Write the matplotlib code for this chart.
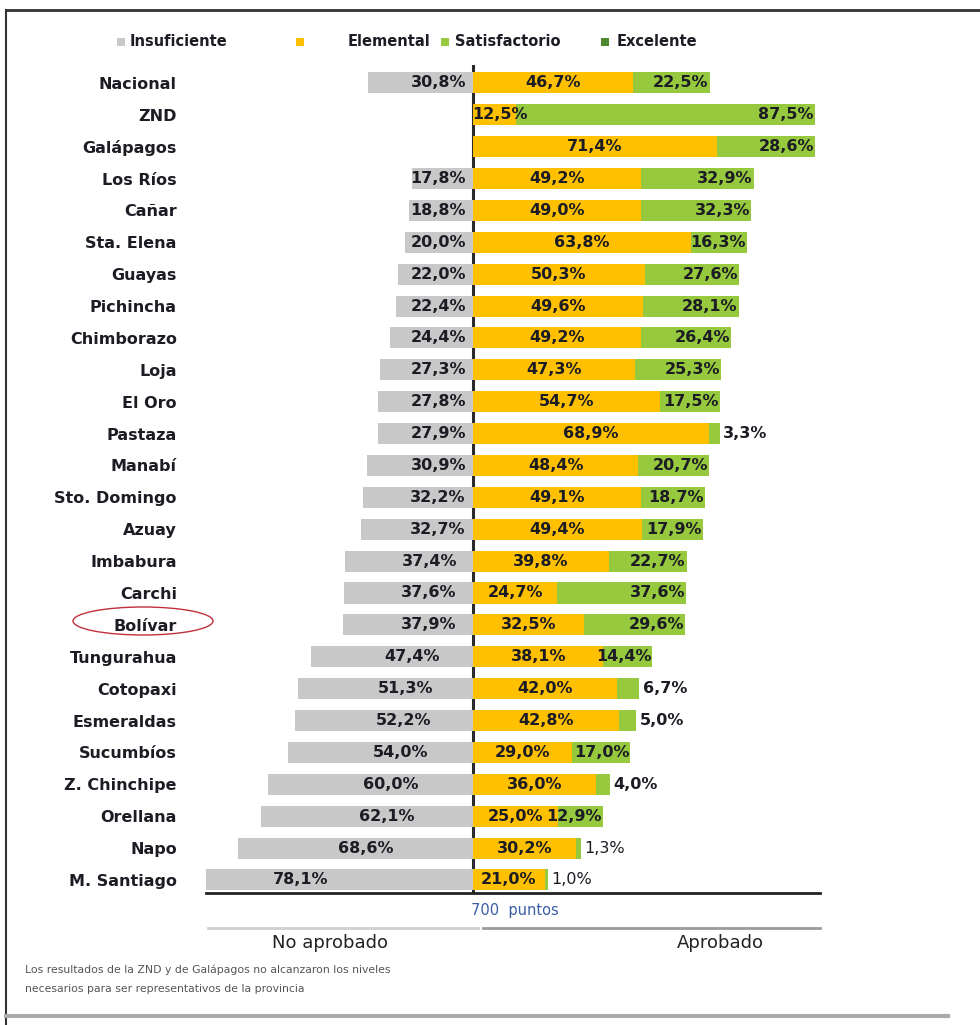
import matplotlib
matplotlib.use("Agg")
import matplotlib.pyplot as plt
from matplotlib.patches import Ellipse, Rectangle
from matplotlib.lines import Line2D
import numpy as np

categories = ["Nacional", "ZND", "Galápagos", "Los Ríos", "Cañar", "Sta. Elena", "Guayas",
              "Pichincha", "Chimborazo", "Loja", "El Oro", "Pastaza", "Manabí", "Sto. Domingo",
              "Azuay", "Imbabura", "Carchi", "Bolívar", "Tungurahua", "Cotopaxi", "Esmeraldas",
              "Sucumbíos", "Z. Chinchipe", "Orellana", "Napo", "M. Santiago"]
insuficiente = [30.8, 0, 0, 17.8, 18.8, 20.0, 22.0, 22.4, 24.4, 27.3, 27.8, 27.9, 30.9, 32.2,
                32.7, 37.4, 37.6, 37.9, 47.4, 51.3, 52.2, 54.0, 60.0, 62.1, 68.6, 78.1]
elemental = [46.7, 12.5, 71.4, 49.2, 49.0, 63.8, 50.3, 49.6, 49.2, 47.3, 54.7, 68.9, 48.4, 49.1,
             49.4, 39.8, 24.7, 32.5, 38.1, 42.0, 42.8, 29.0, 36.0, 25.0, 30.2, 21.0]
satisfactorio = [22.5, 87.5, 28.6, 32.9, 32.3, 16.3, 27.6, 28.1, 26.4, 25.3, 17.5, 3.3, 20.7, 18.7,
                 17.9, 22.7, 37.6, 29.6, 14.4, 6.7, 5.0, 17.0, 4.0, 12.9, 1.3, 1.0]
legend_labels = ["Insuficiente", "Elemental", "Satisfactorio", "Excelente"]

C_GRAY = "#C8C8C8"
C_YEL = "#FFC000"
C_GRN = "#96C93D"
C_DGRN = "#4F8A30"
TXT = "#1c1c24"

W, H = 980, 1025
fig = plt.figure(figsize=(W / 100, H / 100), dpi=100)

def fx(px):
    return px / W

def fy(py):
    return 1 - py / H

ax_left, ax_right = 206, 820
ax_top, ax_bot = 65, 893
ax = fig.add_axes([fx(ax_left), fy(ax_bot), (ax_right - ax_left) / W, (ax_bot - ax_top) / H])

n = len(categories)
y = np.arange(n)
ins = np.array(insuficiente)
ele = np.array(elemental)
sat = np.array(satisfactorio)

ax.axvline(0, color="#2a2a2a", lw=2.2, zorder=1)
bh = 0.66
ax.barh(y, -ins, height=bh, color=C_GRAY, zorder=2)
ax.barh(y, ele, height=bh, color=C_YEL, zorder=2)
ax.barh(y, sat, left=ele, height=bh, color=C_GRN, zorder=2)

ax.set_xlim(-78.1, 101.5)
ax.set_ylim(25.41, -0.56)

def fmt(v):
    return f"{v:.1f}%".replace(".", ",")

fs = 11.5
for i in range(n):
    if ins[i] > 0:
        xr = -max(2.0, ins[i] * 0.5 - 14, 2.0 * ins[i] - 114)
        ax.text(xr, y[i], fmt(ins[i]), ha="right", va="center", fontsize=fs,
                fontweight="bold", color=TXT, zorder=3)
    ax.text(max(ele[i] / 2, 8.0), y[i], fmt(ele[i]), ha="center", va="center", fontsize=fs,
            fontweight="bold", color=TXT, zorder=3)
    end = ele[i] + sat[i]
    if sat[i] < 8:
        ax.text(end + 1.0, y[i], fmt(sat[i]), ha="left", va="center", fontsize=fs,
                fontweight="bold" if sat[i] > 2 else "normal", color=TXT, zorder=3)
    else:
        ax.text(end - 0.3, y[i], fmt(sat[i]), ha="right", va="center", fontsize=fs,
                fontweight="bold", color=TXT, zorder=3)

ax.set_yticks(y)
ax.set_yticklabels(categories, fontsize=11.5, fontweight="bold", color=TXT)
ax.tick_params(axis="y", length=0, pad=21)
ax.set_xticks([])
for s in ["top", "left", "right"]:
    ax.spines[s].set_visible(False)
ax.spines["bottom"].set_linewidth(2)
ax.spines["bottom"].set_color("#222222")

# Legend
leg_items = [(121, C_GRAY, 130), (300, C_YEL, 348), (445, C_GRN, 455), (605, C_DGRN, 617)]
for (sx, col, tx), lab in zip(leg_items, legend_labels):
    fig.patches.append(Rectangle((fx(sx - 4), fy(46)), 8 / W, 8 / H, transform=fig.transFigure,
                                 facecolor=col, edgecolor="none"))
    fig.text(fx(tx), fy(42), lab, ha="left", va="center", fontsize=10.5, fontweight="bold",
             color=TXT)

# Bottom annotations
fig.text(fx(515), fy(910), "700  puntos", ha="center", va="center", fontsize=10.5, color="#3a5da8")
fig.lines.append(Line2D([fx(208), fx(478)], [fy(928), fy(928)], transform=fig.transFigure,
                        color="#cfcfcf", lw=2))
fig.lines.append(Line2D([fx(483), fx(820)], [fy(928), fy(928)], transform=fig.transFigure,
                        color="#9a9a9a", lw=2))
fig.text(fx(330), fy(943), "No aprobado", ha="center", va="center", fontsize=13, color="#222222")
fig.text(fx(720), fy(943), "Aprobado", ha="center", va="center", fontsize=13, color="#222222")
fig.text(fx(25), fy(970), "Los resultados de la ZND y de Galápagos no alcanzaron los niveles",
         ha="left", va="center", fontsize=7.8, color="#555555")
fig.text(fx(25), fy(989), "necesarios para ser representativos de la provincia",
         ha="left", va="center", fontsize=7.8, color="#555555")

# Highlight Bolívar
fig.patches.append(Ellipse((fx(143), fy(621)), 140 / W, 28 / H, transform=fig.transFigure,
                           facecolor="none", edgecolor="#c0303a", lw=1))

# Frame lines
fig.lines.append(Line2D([fx(6), fx(980)], [fy(10), fy(10)], transform=fig.transFigure,
                        color="#333333", lw=2))
fig.lines.append(Line2D([fx(6), fx(6)], [fy(10), fy(1025)], transform=fig.transFigure,
                        color="#333333", lw=1.5))
fig.lines.append(Line2D([fx(6), fx(948)], [fy(1016), fy(1016)], transform=fig.transFigure,
                        color="#aaaaaa", lw=3))

fig.savefig("out.png", dpi=100)
